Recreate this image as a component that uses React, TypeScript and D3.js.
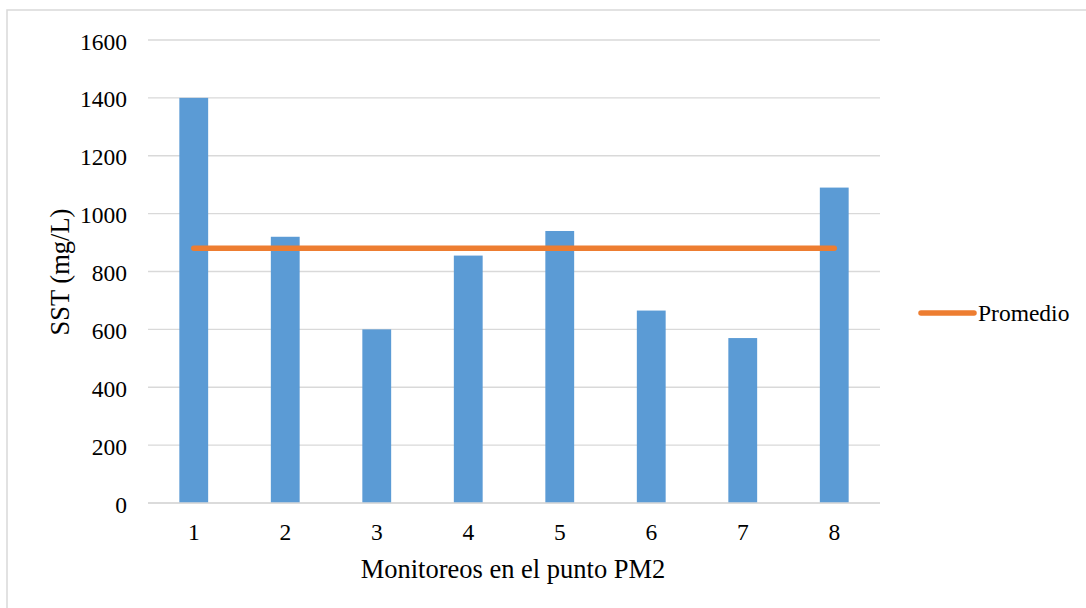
import React from "react";
import * as d3 from "d3";

// Monitoring campaigns at point PM2 and total suspended solids (mg/L)
const categories: string[] = ["1", "2", "3", "4", "5", "6", "7", "8"];
const sstValues: number[] = [1400, 920, 600, 855, 940, 665, 570, 1090];
const yTicks: number[] = [0, 200, 400, 600, 800, 1000, 1200, 1400, 1600];
const average: number = d3.mean(sstValues) as number;
const legendLabel = "Promedio";
const xTitle = "Monitoreos en el punto PM2";
const yTitle = "SST (mg/L)";

const W = 1086;
const H = 608;
const plot = { left: 148, right: 880, top: 40, bottom: 503 };
const FONT = "Liberation Serif";
const BAR = "#5B9BD5";
const LINE = "#ED7D31";
const GRID = "#D9D9D9";

const textStyle = { fontFamily: FONT };

export default function App() {
  const x = d3
    .scaleBand<string>()
    .domain(categories)
    .range([plot.left, plot.right])
    .paddingInner(0.685)
    .paddingOuter(0.3425);
  const y = d3.scaleLinear().domain([0, 1600]).range([plot.bottom, plot.top]);

  const center = (c: string) => (x(c) as number) + x.bandwidth() / 2;
  const avgLine = d3
    .line<string>()
    .x((c) => center(c))
    .y(() => y(average));

  return (
    <svg
      width={W}
      height={H}
      style={{ position: "absolute", left: 0, top: 0, background: "#fff" }}
    >
      <rect x={7} y={10} width={W} height={H} fill="#fff" stroke={GRID} strokeWidth={1.5} />

      {yTicks.map((t) => (
        <g key={t}>
          <line x1={plot.left} x2={plot.right} y1={y(t)} y2={y(t)} stroke={GRID} strokeWidth={1.4} />
          <text x={127} y={y(t) + 9.5} textAnchor="end" fontSize={23.5} fill="#000" style={textStyle}>
            {t}
          </text>
        </g>
      ))}

      {categories.map((c, i) => (
        <rect
          key={c}
          x={x(c) as number}
          y={y(sstValues[i])}
          width={x.bandwidth()}
          height={y(0) - y(sstValues[i])}
          fill={BAR}
        />
      ))}

      <line x1={plot.left} x2={plot.right} y1={y(0)} y2={y(0)} stroke={GRID} strokeWidth={1.4} />

      {categories.map((c) => (
        <text key={c} x={center(c)} y={539.5} textAnchor="middle" fontSize={23.5} fill="#000" style={textStyle}>
          {c}
        </text>
      ))}

      <path
        d={avgLine(categories) as string}
        fill="none"
        stroke={LINE}
        strokeWidth={5.5}
        strokeLinecap="round"
      />

      <text x={513} y={577.5} textAnchor="middle" fontSize={26.5} fill="#000" style={textStyle}>
        {xTitle}
      </text>
      <text
        transform={`translate(68.5,272) rotate(-90)`}
        textAnchor="middle"
        fontSize={26.5}
        fill="#000"
        style={textStyle}
      >
        {yTitle}
      </text>

      <line x1={921} x2={974} y1={313} y2={313} stroke={LINE} strokeWidth={5.5} strokeLinecap="round" />
      <text x={978} y={321} fontSize={23.5} fill="#000" style={textStyle}>
        {legendLabel}
      </text>
    </svg>
  );
}
